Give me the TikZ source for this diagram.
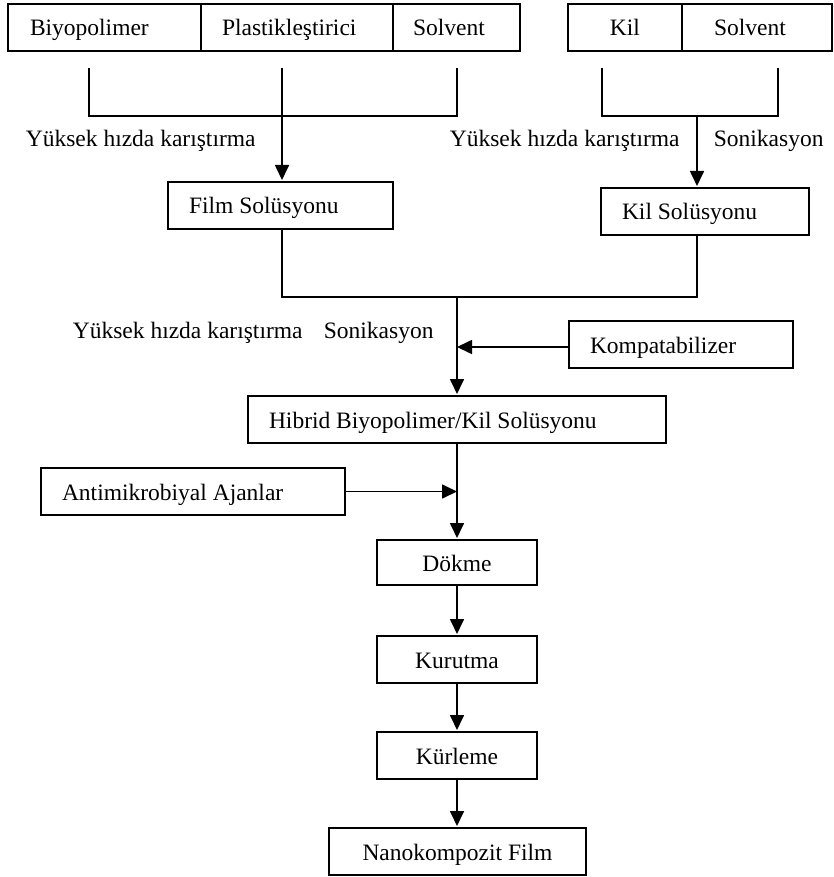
\documentclass[tikz,border=0pt]{standalone}
\usepackage{fontspec}
\setmainfont{Liberation Serif}
\usetikzlibrary{arrows.meta}
\tikzset{
  txt/.style={font=\fontsize{23.5}{28}\selectfont},
  frame/.style={txt, draw, rectangle, outer sep=0pt, inner ysep=0pt,
    text height=32pt, text depth=15pt, anchor=north west},
  box/.style={frame, align=left,
    execute at begin node={\spaceskip=0pt\xspaceskip=0pt\relax}},
  cbox/.style={frame, inner xsep=0pt},
  lbl/.style={txt, inner sep=0pt, anchor=base west},
  arr/.style={-{Triangle[width=14pt,length=15pt]}},
  arrgap/.style={arr, shorten >=2pt}
}
\begin{document}
\begin{tikzpicture}[x=1pt, y=-1pt, line width=1.7pt]
\useasboundingbox (0,0) rectangle (834,877);

% ingredient rows
\node[box, inner xsep=22pt, text width=149pt] (bio)   at (8,4)   {Biyopolimer};
\node[box, inner xsep=21pt, text width=150pt] (plast) at (201,4) {Plastikleştirici};
\node[box, inner xsep=20pt, text width=87pt]  (solvA) at (393,4) {Solvent};
\node[cbox, minimum width=114pt]              (kil)   at (568,4) {Kil};
\node[box, inner xsep=32pt, text width=86pt]  (solvB) at (682,4) {Solvent};

% intermediate solutions
\node[box, inner xsep=21pt, text width=183pt] (film)   at (168,182) {Film Solüsyonu};
\node[box, inner xsep=21pt, text width=166pt] (kilsol) at (601,188) {Kil Solüsyonu};
\node[box, inner xsep=21pt, text width=182pt] (komp)   at (569,321) {Kompatabilizer};
\node[box, inner xsep=21pt, text width=376pt] (hibrid) at (248,396) {Hibrid Biyopolimer/Kil Solüsyonu};
\node[box, inner xsep=21pt, text width=262pt] (anti)   at (41,468)  {Antimikrobiyal Ajanlar};

% processing chain
\node[cbox, minimum width=160pt, text height=31pt, text depth=14pt] (dokme) at (377,540) {Dökme};
\node[cbox, minimum width=160pt] (kurutma) at (377,636) {Kurutma};
\node[cbox, minimum width=160pt] (kurleme) at (377,732) {Kürleme};
\node[cbox, minimum width=257pt] (nano)    at (329,828) {Nanokompozit Film};

% process labels
\node[lbl] (lblA) at (25,147)  {Yüksek hızda karıştırma};
\node[lbl] (lblB) at (449,147) {Yüksek hızda karıştırma};
\node[lbl] (lblC) at (713,147) {Sonikasyon};
\node[lbl] (lblD) at (72,338)  {Yüksek hızda karıştırma};
\node[lbl] (lblE) at (323,338) {Sonikasyon};

% bracket joining the film ingredients
\coordinate (b1) at (89,68);
\coordinate (b2) at (282,68);
\coordinate (b3) at (457,68);
\coordinate (c1) at (89,116);
\coordinate (c3) at (457,116);
\coordinate (jL) at (282,116);
\draw (b1) -- (c1) -- (c3) -- (b3);
\draw (b2) -- (jL);
\draw[arrgap] (jL) -- (jL |- film.north);

% bracket joining the clay ingredients
\coordinate (r1) at (602,68);
\coordinate (r2) at (778,68);
\coordinate (rc1) at (602,116);
\coordinate (rc2) at (778,116);
\coordinate (jR) at (697,116);
\draw (r1) -- (rc1) -- (rc2) -- (r2);
\draw[arrgap] (jR) -- (jR |- kilsol.north);

% merging the two solutions
\coordinate (m1) at (282,297);
\coordinate (m2) at (697,297);
\coordinate (jM) at (457,297);
\draw (film.south -| m1) -- (m1) -- (m2) -- (kilsol.south -| m2);
\draw[arrgap] (jM) -- (jM |- hibrid.north);
\coordinate (kin) at ([yshift=-2.5pt]komp.west);
\draw[arr] (kin) -- (kin -| jM);

% main chain
\draw[arrgap] (hibrid.south -| jM) -- (dokme.north);
\draw[arr] (anti.east) -- (anti.east -| jM);
\draw[arrgap] (dokme.south) -- (kurutma.north);
\draw[arrgap] (kurutma.south) -- (kurleme.north);
\draw[arrgap] (kurleme.south) -- (kurleme.south |- nano.north);
\end{tikzpicture}
\end{document}
